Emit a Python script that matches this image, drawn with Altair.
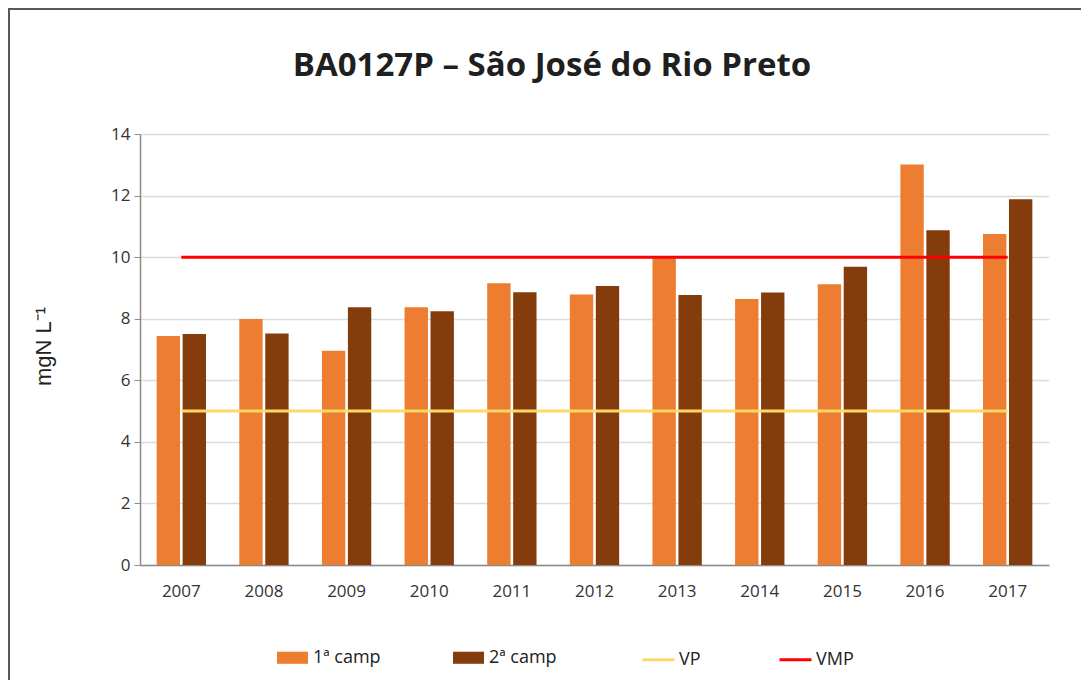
import altair as alt
import pandas as pd

years = ["2007", "2008", "2009", "2010", "2011", "2012", "2013", "2014", "2015", "2016", "2017"]
camp1 = [7.44, 7.99, 6.96, 8.37, 9.15, 8.79, 10.02, 8.64, 9.12, 13.01, 10.75]
camp2 = [7.50, 7.52, 8.37, 8.24, 8.86, 9.06, 8.77, 8.85, 9.69, 10.87, 11.88]
vp = [5, 5, 5, 5, 5, 5, 5, 5, 5, 5, 5]
vmp = [10, 10, 10, 10, 10, 10, 10, 10, 10, 10, 10]

bar_series = ["1ª camp", "2ª camp"]
bar_colors = ["#ED7D31", "#843C0C"]
line_series = ["VP", "VMP"]
line_colors = ["#FFD966", "#FF0000"]
y_ticks = [0, 2, 4, 6, 8, 10, 12, 14]
title_text = "BA0127P – São José do Rio Preto"
y_title = "mgN L⁻¹"

bar_df = pd.DataFrame({
    "year": years * 2,
    "series": [bar_series[0]] * len(years) + [bar_series[1]] * len(years),
    "value": camp1 + camp2,
})
line_df = pd.DataFrame({
    "year": years * 2,
    "series": [line_series[0]] * len(years) + [line_series[1]] * len(years),
    "value": vp + vmp,
})

FONT = "Open Sans"
rect_path = "M-1,-0.39L1,-0.39L1,0.39L-1,0.39Z"

x_enc = alt.X(
    "year:N",
    sort=years,
    scale=alt.Scale(paddingInner=0.403, paddingOuter=0.2015),
    axis=alt.Axis(
        title=None, labelAngle=0, ticks=False, labelPadding=18,
        labelFont=FONT, labelFontSize=17, labelColor="#333333",
        domainColor="#8c8c8c", domainWidth=1.5, grid=False,
    ),
)

bars = alt.Chart(bar_df).mark_bar().encode(
    x=x_enc,
    xOffset=alt.XOffset("series:N", sort=bar_series, scale=alt.Scale(paddingInner=0.1)),
    y=alt.Y(
        "value:Q",
        scale=alt.Scale(domain=[0, 14], nice=False),
        axis=alt.Axis(
            values=y_ticks, title=y_title, titleFont="Liberation Sans", titleFontSize=22,
            titleFontWeight="normal", titleColor="#222222",
            titleX=-97, titleY=212, titleAlign="center", titleBaseline="middle", titleAngle=270,
            labelFont=FONT, labelFontSize=17, labelColor="#333333", labelPadding=4,
            tickSize=6, tickColor="#8c8c8c", domainColor="#8c8c8c", domainWidth=1.5,
            gridColor="#dcdcdc", gridWidth=1.5,
        ),
    ),
    fill=alt.Fill(
        "series:N",
        scale=alt.Scale(domain=bar_series, range=bar_colors),
        legend=alt.Legend(
            title=None, orient="none", legendX=137, legendY=508, direction="horizontal",
            symbolType=rect_path, symbolSize=961, symbolStrokeWidth=0,
            labelFont=FONT, labelFontSize=18, labelColor="#222222", labelOffset=5,
            columnPadding=72, padding=0,
        ),
    ),
)

lines = alt.Chart(line_df).mark_line(strokeWidth=3).encode(
    x=alt.X("year:N", sort=years),
    y=alt.Y("value:Q"),
    stroke=alt.Stroke(
        "series:N",
        scale=alt.Scale(domain=line_series, range=line_colors),
        legend=alt.Legend(
            title=None, orient="none", legendX=501, legendY=508, direction="horizontal",
            symbolType="stroke", symbolSize=1024, symbolStrokeWidth=3,
            labelFont=FONT, labelFontSize=18, labelColor="#222222", labelOffset=3,
            columnPadding=72, padding=0,
        ),
    ),
)

title = alt.Chart(pd.DataFrame({"t": [title_text]})).mark_text(
    font=FONT, fontSize=33, fontWeight="bold", color="#1f1f1f",
    align="center", baseline="alphabetic",
).encode(text="t:N", x=alt.value(412), y=alt.value(-58))

frame = alt.Chart(pd.DataFrame({"f": [0]})).mark_rect(
    fillOpacity=0, stroke="#595959", strokeWidth=2
).encode(
    x=alt.value(-131), x2=alt.value(1200), y=alt.value(-125), y2=alt.value(900)
)

chart = alt.layer(bars, lines, title, frame).properties(
    width=909,
    height=431,
    padding={"left": 132, "top": 126, "right": 32, "bottom": 115},
    autosize=alt.AutoSizeParams(type="none"),
    background="white",
).configure_view(stroke=None)

chart.save("out.html", embed_options={"renderer": "svg", "actions": False})
